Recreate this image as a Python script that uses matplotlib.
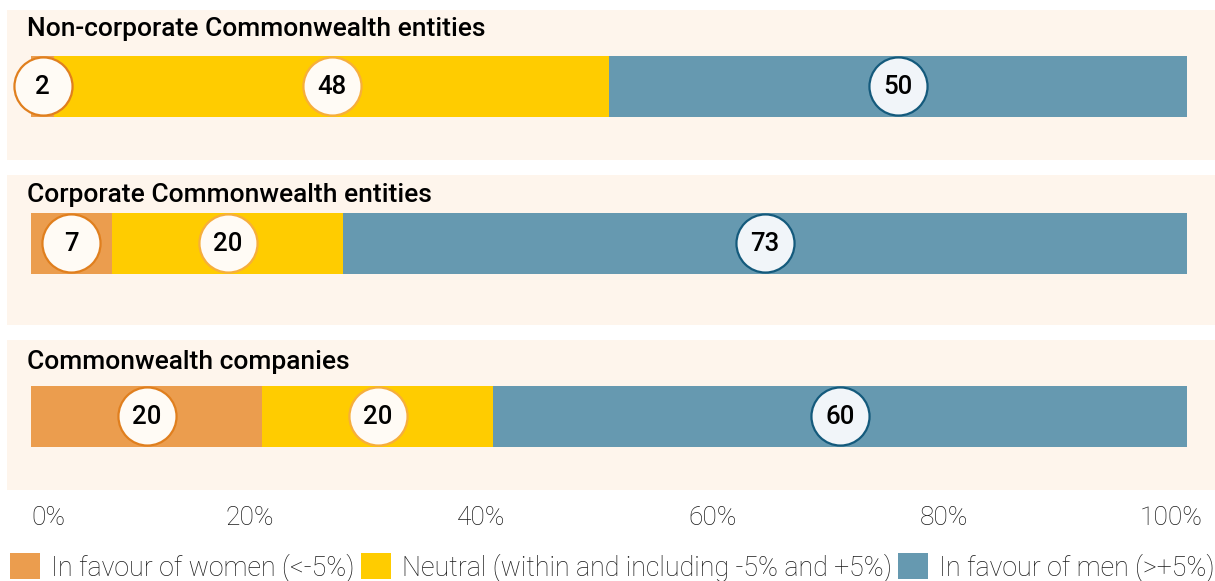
import matplotlib
matplotlib.use('Agg')
import matplotlib.pyplot as plt
from matplotlib.patches import Rectangle, Patch

plt.rcParams['font.family'] = ['Roboto', 'DejaVu Sans']

# data
groups = ['Non-corporate Commonwealth entities',
          'Corporate Commonwealth entities',
          'Commonwealth companies']
women = [2, 7, 20]
neutral = [48, 20, 20]
men = [50, 73, 60]
series_labels = ['In favour of women (<-5%)',
                 'Neutral (within and including -5% and +5%)',
                 'In favour of men (>+5%)']
tick_vals = [0, 20, 40, 60, 80, 100]
tick_labels = ['0%', '20%', '40%', '60%', '80%', '100%']

C_WOMEN = '#EB9D4E'
C_NEUTRAL = '#FFCC00'
C_MEN = '#6699B0'
C_PANEL = '#FEF5EC'
EDGE = ['#E07F1E', '#F6AE3C', '#145A7C']
FILL = ['#FFFBF5', '#FFFBF5', '#F1F5F9']
TXT = '#1a1a1a'

W, H = 1215, 581
fig = plt.figure(figsize=(W / 100, H / 100), dpi=100)
fig.patch.set_facecolor('white')
# axes: x 0-100 mapped onto pixel 31..1187, y in pixel units (top = 0)
ax = fig.add_axes([31 / W, 0, 1156 / W, 1])
ax.set_xlim(0, 100)
ax.set_ylim(H, 0)
ax.axis('off')

px = 100 / 1156  # one pixel in x data units
panel_top = [10, 175, 340]
title_y = [29, 195, 362]
bar_y = [86, 243, 416]
bar_h = 61

for i, g in enumerate(groups):
    ax.add_patch(Rectangle((-24 * px, panel_top[i]), (1215 - 7) * px, 150,
                           facecolor=C_PANEL, edgecolor='none', zorder=0,
                           clip_on=False))
    ax.text(-4 * px, title_y[i], g, ha='left', va='center', fontsize=19,
            fontweight='medium', color='black')

left = [0, 0, 0]
for vals, col in zip([women, neutral, men], [C_WOMEN, C_NEUTRAL, C_MEN]):
    ax.barh(bar_y, vals, left=left, height=bar_h, color=col, zorder=1)
    left = [l + v for l, v in zip(left, vals)]

# value circles at segment centres
left = [0, 0, 0]
for k, vals in enumerate([women, neutral, men]):
    xs = [l + v / 2 for l, v in zip(left, vals)]
    ax.scatter(xs, bar_y, s=1750, facecolor=FILL[k], edgecolor=EDGE[k],
               linewidth=1.6, zorder=3, clip_on=False)
    for x, y, v in zip(xs, bar_y, vals):
        ax.text(x, y + 1, str(v), ha='center', va='center', fontsize=18.5,
                fontweight='medium', color='black', zorder=4)
    left = [l + v for l, v in zip(left, vals)]

# x tick labels
for v, lab in zip(tick_vals, tick_labels):
    if v == 0:
        ax.text(v, 518, lab, ha='left', va='center', fontsize=19,
                fontweight='light', color=TXT)
    elif v == 100:
        ax.text(v + 16 * px, 518, lab, ha='right', va='center', fontsize=19,
                fontweight='light', color=TXT)
    else:
        ax.text(v - 12 * px, 518, lab, ha='center', va='center', fontsize=19,
                fontweight='light', color=TXT)

handles = [Patch(facecolor=c, edgecolor='none') for c in (C_WOMEN, C_NEUTRAL, C_MEN)]
leg = fig.legend(handles, series_labels, loc='upper left',
                 bbox_to_anchor=(10 / W, 1 - 553 / H), ncol=3, frameon=False,
                 prop={'weight': 'light', 'size': 19.3},
                 handlelength=1.12, handleheight=1.12, handletextpad=0.4,
                 columnspacing=0.25, borderpad=0, borderaxespad=0)
for t in leg.get_texts():
    t.set_color(TXT)

fig.savefig('out.png', dpi=100, facecolor='white')
